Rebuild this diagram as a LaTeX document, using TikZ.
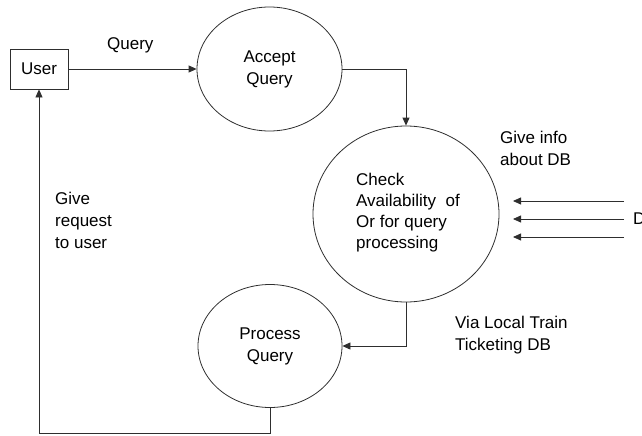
\documentclass[tikz,border=0pt]{standalone}
\usepackage{fontspec}
\setmainfont{Liberation Sans}
\usetikzlibrary{arrows.meta,shapes.geometric}
\begin{document}
\begin{tikzpicture}[x=1pt,y=-1pt,
  ink/.style={draw=black!82, line width=0.8pt},
  flow/.style={ink, -{Triangle[length=8pt,width=7pt]}},
  proc/.style={ink, ellipse, inner sep=0pt},
  txt/.style={font=\fontsize{17}{22}\selectfont, inner sep=0pt},
  % multi-line labels are placed by the baseline of their last line
  lbl/.style={txt, align=left, anchor=base west},
]
\useasboundingbox (0,0) rectangle (642,436);

% external entity
\node[ink, rectangle, minimum width=58pt, minimum height=40pt, inner sep=0pt, txt] (user) at (39,69) {User};

% processes
\node[proc, minimum width=145pt, minimum height=124pt, txt, align=center] (accept) at (269.5,69) {Accept\\Query};
\node[proc, minimum width=186pt, minimum height=176pt] (check) at (406,214) {};
\node[lbl, font=\fontsize{17}{21}\selectfont] (checktxt) at (356,248) {Check\\Availability\ \ of\\Or for query\\processing};
\node[proc, minimum width=144pt, minimum height=123pt, txt, align=center] (proc) at (270,346) {Process\\Query};

% flow labels
\node[lbl] (qlbl) at (107,50) {Query};
\node[lbl] (infolbl) at (500,165) {Give info\\about DB};
\node[lbl] (givelbl) at (55,248) {Give\\request\\to user};
\node[lbl] (vialbl) at (455,350) {Via Local Train\\Ticketing DB};
\node[txt, anchor=west] (dblbl) at (633,219) {D};

% flows
\draw[flow] (user.east) -- (accept.west);
\draw[flow] (accept.east) -| (check.north);
\draw[flow] (check.south) |- (proc.east);
\coordinate (ret) at (39,433);
\draw[flow] (proc.south) |- (ret) -- (user.south);

% incoming data flows from the store
\coordinate (s1) at (624,201); \coordinate (t1) at (513,201);
\coordinate (s2) at (624,219); \coordinate (t2) at (513,219);
\coordinate (s3) at (624,237); \coordinate (t3) at (513,237);
\draw[flow] (s1) -- (t1);
\draw[flow] (s2) -- (t2);
\draw[flow] (s3) -- (t3);
\end{tikzpicture}
\end{document}
